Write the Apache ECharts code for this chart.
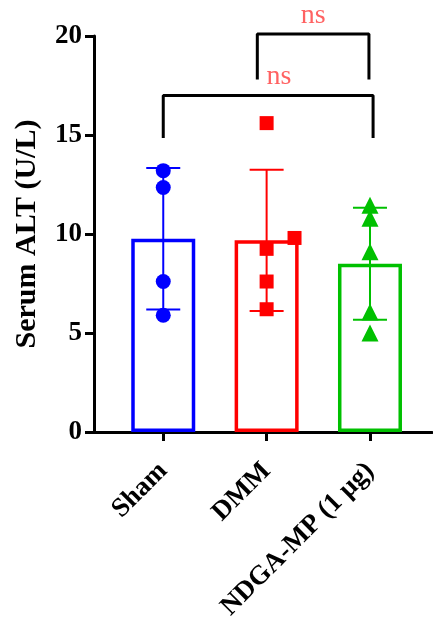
<!DOCTYPE html>
<html>
<head>
<meta charset="utf-8">
<script src="https://cdn.jsdelivr.net/npm/echarts@6/dist/echarts.min.js"></script>
<style>
  html, body { margin: 0; padding: 0; background: #fff; }
  #chart { width: 433px; height: 624px; }
</style>
</head>
<body>
<div id="chart"></div>
<script>
const categories = ["Sham", "DMM", "NDGA-MP (1 μg)"];
const colors = ["#0000ff", "#ff0000", "#00c000"];
const symbols = ["circle", "rect", "triangle"];
const means = [9.76, 9.68, 8.5];
const sds = [3.57, 3.57, 2.83];

// individual animals: [x position, value]
const shamPoints = [[1, 13.2], [1, 12.35], [1, 7.6], [1, 5.9]];
const dmmPoints = [[2, 15.6], [2.27, 9.8], [2, 9.25], [2, 7.6], [2, 6.2]];
const ndgaPoints = [[3, 11.45], [3, 10.8], [3, 9.1], [3, 6.06], [3, 5.0]];
const points = [shamPoints, dmmPoints, ndgaPoints];

// comparison brackets: [x1, x2, top, leg bottom]
const brackets = [
  [1, 3.03, 17, 14.85],
  [1.91, 2.99, 20.1, 17.8]
];
// significance labels: [x, y, text]
const sigLabels = [
  [2.12, 17.95, "ns"],
  [2.45, 21.04, "ns"]
];

const yTicks = [0, 5, 10, 15, 20];

const font = "Liberation Serif";

const series = [];

// one bar series so the bars are not grouped side by side
series.push({
  type: "bar",
  data: categories.map(function (c, i) {
    return {
      value: [i + 1, means[i]],
      itemStyle: { color: "rgba(0,0,0,0)", borderColor: colors[i], borderWidth: 3.5 }
    };
  }),
  barWidth: 64,
  z: 2
});

series.push({
  type: "custom",
  data: categories.map(function (c, i) {
    return [i + 1, means[i] - sds[i], means[i] + sds[i], i];
  }),
  clip: false,
  z: 3,
  renderItem: function (params, api) {
    const lo = api.coord([api.value(0), api.value(1)]);
    const hi = api.coord([api.value(0), api.value(2)]);
    const c = colors[api.value(3)];
    const half = 17;
    const style = { stroke: c, lineWidth: 2 };
    return {
      type: "group",
      children: [
        { type: "line", shape: { x1: lo[0], y1: lo[1], x2: hi[0], y2: hi[1] }, style: style },
        { type: "line", shape: { x1: hi[0] - half, y1: hi[1], x2: hi[0] + half, y2: hi[1] }, style: style },
        { type: "line", shape: { x1: lo[0] - half, y1: lo[1], x2: lo[0] + half, y2: lo[1] }, style: style }
      ]
    };
  }
});

points.forEach(function (pts, i) {
  series.push({
    type: "scatter",
    data: pts,
    symbol: symbols[i],
    symbolSize: i === 1 ? 14 : (i === 2 ? 17 : 15),
    itemStyle: { color: colors[i], opacity: 1 },
    clip: false,
    z: 4
  });
});

brackets.forEach(function (b) {
  series.push({
    type: "line",
    data: [[b[0], b[3]], [b[0], b[2]], [b[1], b[2]], [b[1], b[3]]],
    symbol: "none",
    clip: false,
    lineStyle: { color: "#000", width: 3 },
    z: 5
  });
});

series.push({
  type: "scatter",
  data: sigLabels.map(function (s) { return [s[0], s[1], s[2]]; }),
  symbolSize: 0,
  clip: false,
  label: {
    show: true,
    position: "inside",
    formatter: function (p) { return p.data[2]; },
    color: "#ff3b3b",
    fontFamily: font,
    fontSize: 28
  },
  z: 6
});

const chart = echarts.init(document.getElementById("chart"));
chart.setOption({
  animation: false,
  grid: { left: 94, right: 1, top: 36, bottom: 192, containLabel: false, outerBoundsMode: "none" },
  xAxis: {
    type: "value",
    min: 0.33,
    max: 3.6,
    splitLine: { show: false },
    axisLine: { show: true, lineStyle: { color: "#000", width: 3 } },
    axisTick: { show: true, customValues: [1, 2, 3], length: 9, lineStyle: { color: "#000", width: 3 } },
    axisLabel: {
      customValues: [1, 2, 3],
      formatter: function (v) { return categories[Math.round(v) - 1]; },
      rotate: 45,
      margin: 35,
      color: "#000",
      fontFamily: font,
      fontWeight: "bold",
      fontSize: 27
    }
  },
  yAxis: {
    type: "value",
    min: 0,
    max: 20,
    interval: 5,
    name: "Serum ALT (U/L)",
    nameLocation: "middle",
    nameGap: 52,
    nameTextStyle: { color: "#000", fontFamily: font, fontWeight: "bold", fontSize: 30 },
    splitLine: { show: false },
    axisLine: { show: true, lineStyle: { color: "#000", width: 3 } },
    axisTick: { show: true, length: 9, lineStyle: { color: "#000", width: 3 } },
    axisLabel: {
      customValues: yTicks,
      margin: 12,
      color: "#000",
      fontFamily: font,
      fontWeight: "bold",
      fontSize: 27
    }
  },
  series: series
});
</script>
</body>
</html>
